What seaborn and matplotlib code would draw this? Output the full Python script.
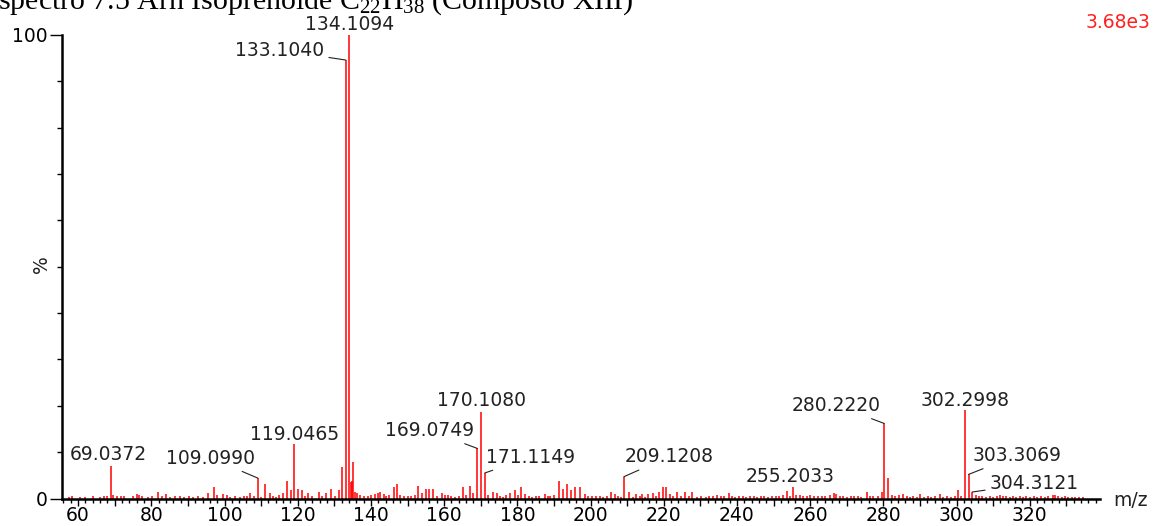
import matplotlib
matplotlib.use("Agg")
import matplotlib.pyplot as plt
import seaborn as sns
import pandas as pd
import numpy as np
from matplotlib.ticker import MultipleLocator, FuncFormatter

# ---------------- data ----------------
mz = [
    57.5, 58.3, 60.5, 62.0, 64.2, 66.1, 67.2, 68.0, 69.0372, 69.6, 70.7, 71.6, 72.5, 74.9, 76.0, 76.6, 77.5,
    79.0, 80.1, 81.9, 83.0, 84.0, 85.2, 86.6, 87.9, 88.8, 90.4, 91.3, 92.7, 94.1, 95.6, 97.0, 98.0, 99.5,
    100.6, 101.5, 102.9, 104.2, 105.4, 106.1, 107.0, 108.0, 109.0990, 110.1, 111.1, 112.3, 113.3, 114.2,
    115.0, 115.9, 117.0, 118.1, 119.0465, 120.0, 121.1, 122.0, 122.9, 124.0, 125.7, 126.7, 127.8, 129.0,
    130.1, 131.4, 132.05, 133.1040, 134.1094, 134.6, 134.8, 135.2, 135.7, 136.2, 137.1, 138.0, 139.1,
    140.0, 141.0, 142.0, 142.5, 143.6, 144.2, 145.0, 146.2, 147.1, 148.0, 149.1, 150.0, 151.0, 152.0,
    153.0, 153.9, 155.1, 156.0, 157.1, 158.0, 159.4, 160.2, 161.0, 162.0, 163.0, 164.0, 165.1, 166.0,
    167.1, 168.0, 169.0749, 170.1080, 171.1149, 172.0, 173.3, 174.4, 175.3, 176.0, 177.0, 178.0, 179.4,
    180.2, 181.0, 182.0, 183.2, 184.0, 185.1, 186.0, 187.6, 188.4, 189.0, 190.0, 191.5, 192.6, 193.5,
    194.6, 195.8, 197.2, 198.5, 199.4, 200.3, 201.4, 202.6, 203.5, 204.5, 205.6, 206.7, 207.5, 208.3,
    209.1208, 210.6, 211.5, 212.5, 213.4, 214.0, 215.0, 215.8, 217.2, 218.0, 218.8, 219.7, 220.7, 221.6,
    222.4, 223.6, 224.6, 225.9, 227.0, 227.7, 229.0, 230.3, 231.6, 232.5, 233.4, 234.5, 235.6, 236.6,
    237.7, 238.6, 239.6, 240.7, 241.6, 242.6, 243.5, 244.6, 245.5, 246.6, 247.5, 248.6, 249.5, 250.6,
    251.5, 252.6, 253.6, 254.4, 255.2033, 256.2, 257.1, 258.0, 259.2, 260.1, 261.0, 262.1, 263.2, 264.0,
    265.3, 266.4, 267.2, 268.1, 269.0, 270.0, 271.1, 272.0, 273.2, 274.0, 275.5, 276.4, 277.2, 278.6,
    279.6, 280.2220, 281.4, 282.3, 283.1, 284.2, 285.5, 286.4, 287.3, 288.2, 289.1, 290.0, 291.2, 292.3,
    293.1, 294.2, 295.5, 296.4, 297.4, 298.6, 299.6, 300.5, 301.3, 302.2998, 303.3069, 304.3121, 305.2,
    306.1, 307.0, 308.0, 309.1, 310.0, 311.0, 311.9, 312.8, 313.6, 314.5, 315.4, 316.2, 317.3, 318.2,
    319.1, 320.2, 321.1, 322.0, 323.0, 324.1, 325.0, 326.4, 326.9, 327.8, 328.7, 329.6, 330.5, 331.5,
    332.4, 333.5, 334.5,
]
intensity = [
    0.4, 0.5, 0.3, 0.4, 0.6, 0.4, 0.5, 0.6, 7.1, 0.8, 0.6, 0.5, 0.6, 0.6, 0.9, 0.7, 0.5,
    0.4, 0.5, 1.3, 0.5, 0.9, 0.4, 0.5, 0.6, 0.4, 0.6, 0.4, 0.5, 0.4, 1.1, 2.4, 0.8, 0.9,
    0.7, 0.4, 0.6, 0.4, 0.5, 0.6, 1.1, 0.5, 4.4, 0.4, 3.2, 1.1, 0.6, 0.4,
    0.8, 1.2, 3.7, 1.8, 11.7, 2.1, 1.8, 0.6, 1.2, 0.5, 1.4, 0.6, 1.1, 2.1,
    0.6, 1.9, 6.8, 94.6, 100.0, 3.5, 3.8, 7.9, 1.5, 1.2, 0.8, 0.5, 0.6,
    0.7, 0.9, 1.1, 1.4, 1.0, 0.6, 0.8, 2.5, 3.2, 0.7, 0.5, 0.6, 0.5, 0.7,
    2.6, 1.1, 2.1, 2.1, 2.1, 0.6, 1.1, 0.8, 0.7, 0.5, 0.4, 0.5, 2.4, 0.8,
    2.6, 1.1, 10.8, 18.7, 5.5, 0.7, 1.4, 1.1, 0.5, 0.4, 0.8, 1.1, 1.9,
    0.7, 2.5, 1.0, 0.5, 0.4, 0.6, 0.5, 0.9, 0.6, 0.5, 0.7, 3.8, 2.1, 3.2,
    1.8, 2.4, 2.4, 1.0, 0.6, 0.5, 0.6, 0.5, 0.4, 0.6, 1.4, 1.0, 0.5, 0.4,
    4.7, 1.4, 0.4, 1.0, 0.5, 1.0, 0.4, 1.0, 1.1, 0.5, 1.4, 2.4, 2.4, 0.9,
    0.5, 1.4, 0.6, 1.4, 0.5, 1.4, 0.4, 0.5, 0.4, 0.6, 0.5, 0.7, 0.5, 0.6,
    1.1, 0.5, 0.4, 0.5, 0.6, 0.4, 0.5, 0.6, 0.4, 0.5, 0.6, 0.4, 0.5, 0.6,
    0.5, 0.7, 1.6, 0.6, 2.4, 0.7, 0.8, 0.5, 0.6, 0.7, 0.5, 0.6, 0.5, 0.6,
    0.8, 1.2, 1.0, 0.6, 0.5, 0.4, 0.5, 0.6, 0.5, 0.4, 1.4, 0.5, 0.6, 0.5,
    1.4, 16.2, 4.4, 0.8, 0.6, 0.7, 0.9, 0.5, 0.4, 0.5, 0.4, 0.9, 0.4, 0.5,
    0.4, 0.5, 0.9, 0.4, 0.5, 0.4, 0.6, 1.9, 0.6, 19.2, 5.2, 1.4, 0.7,
    0.6, 0.5, 0.4, 0.5, 0.4, 0.5, 0.8, 0.5, 0.6, 0.4, 0.5, 0.4, 0.5, 0.4,
    0.5, 0.4, 0.5, 0.4, 0.5, 0.4, 0.5, 0.8, 0.7, 0.5, 0.4, 0.5, 0.3, 0.4,
    0.3, 0.4, 0.3,
]
peak_labels = ["69.0372", "109.0990", "119.0465", "133.1040", "134.1094", "169.0749", "170.1080",
               "171.1149", "209.1208", "255.2033", "280.2220", "302.2998", "303.3069", "304.3121"]
title = "Espectro 7.5 Arh Isoprenoide C$_{22}$H$_{38}$ (Composto XIII)"
base_peak_counts = "3.68e3"
x_ticks = [60, 80, 100, 120, 140, 160, 180, 200, 220, 240, 260, 280, 300, 320]

# label placement (pixel offsets from the peak top) and whether a leader line is drawn
label_offsets = {
    "69.0372": (-3, 11, False), "109.0990": (-47, 20, True), "119.0465": (0, 10, False),
    "133.1040": (-66, 10, True), "134.1094": (0, 10, False), "169.0749": (-48, 18, True),
    "170.1080": (0, 11, False), "171.1149": (46, 16, True), "209.1208": (45, 20, True),
    "255.2033": (-2, 11, False), "280.2220": (-48, 18, True), "302.2998": (0, 9, False),
    "303.3069": (48, 19, True), "304.3121": (62, 9, True),
}

# ---------------- figure ----------------
sns.set_theme(style="ticks")
plt.rcParams["font.family"] = ["DejaVu Sans"]
plt.rcParams["mathtext.fontset"] = "custom"
plt.rcParams["mathtext.rm"] = "Liberation Serif"
plt.rcParams["mathtext.it"] = "Liberation Serif:italic"

W, H = 1154, 526
fig = plt.figure(figsize=(W / 100, H / 100), dpi=100, facecolor="white")
ax = fig.add_axes([62 / W, 1 - 498.5 / H, (1100 - 62) / W, (498.5 - 35) / H])
ax.set_facecolor("white")

n = len(mz)
df = pd.DataFrame({
    "peak": list(range(n)) * 2,
    "mz": mz + mz,
    "rel": [0.0] * n + intensity,
})
sns.lineplot(data=df, x="mz", y="rel", units="peak", estimator=None, sort=False,
             color="#ff0000", lw=1.1, ax=ax, legend=False)
for ln in ax.lines:
    ln.set_clip_on(False)
    ln.set_solid_capstyle("butt")

ax.set_xlim(55.6, 339.2)
ax.set_ylim(0, 100)
ax.set_xlabel("")
ax.set_ylabel("")

for s in ["top", "right"]:
    ax.spines[s].set_visible(False)
for s in ["left", "bottom"]:
    ax.spines[s].set_linewidth(1.8)
    ax.spines[s].set_color("black")
ax.spines["bottom"].set_zorder(5)

ax.xaxis.set_major_locator(MultipleLocator(10))
ax.xaxis.set_minor_locator(MultipleLocator(2))
ax.xaxis.set_major_formatter(FuncFormatter(lambda v, p: f"{int(round(v))}" if int(round(v)) in x_ticks else ""))
ax.tick_params(axis="x", which="major", length=5, width=1.0, pad=0.5, labelsize=13.5, colors="black")
ax.tick_params(axis="x", which="minor", length=3, width=1.0, colors="black")

ax.set_yticks([0, 100])
ax.set_yticklabels(["0", "100"])
ax.yaxis.set_minor_locator(MultipleLocator(10))
ax.tick_params(axis="y", which="major", length=8.5, width=1.0, pad=1.5, labelsize=13.5, colors="black")
ax.tick_params(axis="y", which="minor", length=3.6, width=1.0, colors="black")

lookup = dict(zip(mz, intensity))
for lab in peak_labels:
    m = float(lab)
    dx, dy, leader = label_offsets[lab]
    kw = {}
    if leader:
        kw["arrowprops"] = dict(arrowstyle="-", lw=0.8, color="#222222", shrinkA=1, shrinkB=0)
    ax.annotate(lab, xy=(m, lookup[m]), xytext=(dx, dy), textcoords="offset pixels",
                ha="center", va="center", fontsize=13.5, color="#222222",
                annotation_clip=False, **kw)

fig.text(-20 / W, 1 - 9 / H, title, ha="left", va="baseline",
         family="Liberation Serif", fontsize=21.5, color="black")
fig.text(1150 / W, 1 - 22.5 / H, base_peak_counts, ha="right", va="center",
         fontsize=13.5, color="#ff2020")
fig.text(1113 / W, 1 - 500 / H, "m/z", ha="left", va="center", fontsize=13.5, color="#222222")
fig.text(41 / W, 1 - 264 / H, "%", ha="center", va="center", rotation=90,
         fontsize=13.5, color="#222222")

fig.savefig("out.png", dpi=100, facecolor="white")
